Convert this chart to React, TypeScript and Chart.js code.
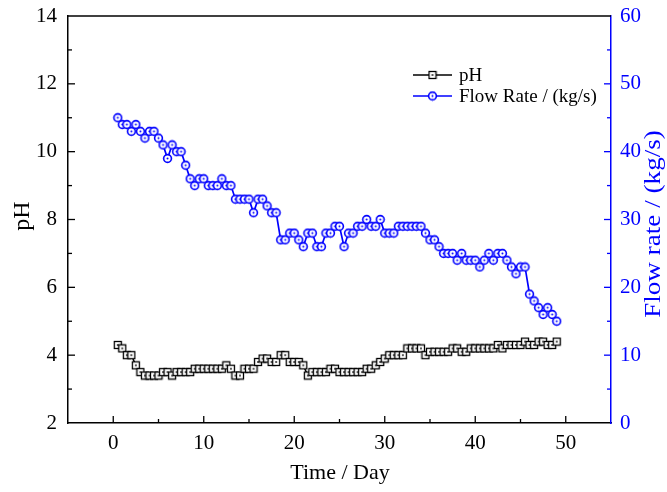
import React, { useEffect, useRef } from "react";
import { Chart, registerables } from "chart.js";
Chart.register(...registerables);

const days = [
  0.5, 1, 1.5, 2, 2.5, 3, 3.5, 4, 4.5, 5,
  5.5, 6, 6.5, 7, 7.5, 8, 8.5, 9, 9.5, 10,
  10.5, 11, 11.5, 12, 12.5, 13, 13.5, 14, 14.5, 15,
  15.5, 16, 16.5, 17, 17.5, 18, 18.5, 19, 19.5, 20,
  20.5, 21, 21.5, 22, 22.5, 23, 23.5, 24, 24.5, 25,
  25.5, 26, 26.5, 27, 27.5, 28, 28.5, 29, 29.5, 30,
  30.5, 31, 31.5, 32, 32.5, 33, 33.5, 34, 34.5, 35,
  35.5, 36, 36.5, 37, 37.5, 38, 38.5, 39, 39.5, 40,
  40.5, 41, 41.5, 42, 42.5, 43, 43.5, 44, 44.5, 45,
  45.5, 46, 46.5, 47, 47.5, 48, 48.5, 49,
];

const phValues = [
  4.3, 4.2, 4.0, 4.0, 3.7, 3.5, 3.4, 3.4, 3.4, 3.4,
  3.5, 3.5, 3.4, 3.5, 3.5, 3.5, 3.5, 3.6, 3.6, 3.6,
  3.6, 3.6, 3.6, 3.6, 3.7, 3.6, 3.4, 3.4, 3.6, 3.6,
  3.6, 3.8, 3.9, 3.9, 3.8, 3.8, 4.0, 4.0, 3.8, 3.8,
  3.8, 3.7, 3.4, 3.5, 3.5, 3.5, 3.5, 3.6, 3.6, 3.5,
  3.5, 3.5, 3.5, 3.5, 3.5, 3.6, 3.6, 3.7, 3.8, 3.9,
  4.0, 4.0, 4.0, 4.0, 4.2, 4.2, 4.2, 4.2, 4.0, 4.1,
  4.1, 4.1, 4.1, 4.1, 4.2, 4.2, 4.1, 4.1, 4.2, 4.2,
  4.2, 4.2, 4.2, 4.2, 4.3, 4.2, 4.3, 4.3, 4.3, 4.3,
  4.4, 4.3, 4.3, 4.4, 4.4, 4.3, 4.3, 4.4,
];

const flowValues = [
  45, 44, 44, 43, 44, 43, 42, 43, 43, 42,
  41, 39, 41, 40, 40, 38, 36, 35, 36, 36,
  35, 35, 35, 36, 35, 35, 33, 33, 33, 33,
  31, 33, 33, 32, 31, 31, 27, 27, 28, 28,
  27, 26, 28, 28, 26, 26, 28, 28, 29, 29,
  26, 28, 28, 29, 29, 30, 29, 29, 30, 28,
  28, 28, 29, 29, 29, 29, 29, 29, 28, 27,
  27, 26, 25, 25, 25, 24, 25, 24, 24, 24,
  23, 24, 25, 24, 25, 25, 24, 23, 22, 23,
  23, 19, 18, 17, 16, 17, 16, 15,
];

const xTicks = [0, 10, 20, 30, 40, 50];
const phTicks = [2, 4, 6, 8, 10, 12, 14];
const flowTicks = [0, 10, 20, 30, 40, 50, 60];

const BLUE = "#0000ff";
const FONT = "'Liberation Serif', 'Times New Roman', serif";

function makeSquare(): HTMLCanvasElement {
  const c = document.createElement("canvas");
  c.width = 10;
  c.height = 10;
  const g = c.getContext("2d")!;
  g.fillStyle = "#fff";
  g.fillRect(1.5, 1.5, 7, 7);
  g.strokeStyle = "#000";
  g.lineWidth = 1.3;
  g.strokeRect(1.5, 1.5, 7, 7);
  g.fillStyle = "#000";
  g.fillRect(4.2, 4.2, 1.6, 1.6);
  return c;
}

function makeCircle(): HTMLCanvasElement {
  const c = document.createElement("canvas");
  c.width = 11;
  c.height = 11;
  const g = c.getContext("2d")!;
  g.beginPath();
  g.arc(5.5, 5.5, 3.9, 0, Math.PI * 2);
  g.fillStyle = "#fff";
  g.fill();
  g.strokeStyle = BLUE;
  g.lineWidth = 1.6;
  g.stroke();
  g.beginPath();
  g.arc(5.5, 5.5, 1.0, 0, Math.PI * 2);
  g.fillStyle = BLUE;
  g.fill();
  return c;
}

export default function App() {
  const ref = useRef<HTMLCanvasElement>(null);

  useEffect(() => {
    const canvas = ref.current!;
    const sq = makeSquare();
    const ci = makeCircle();

    const decor = {
      id: "decor",
      afterDraw(chart: any) {
        const ctx = chart.ctx as CanvasRenderingContext2D;
        const a = chart.chartArea;
        const xs = chart.scales.x;
        const yl = chart.scales.y;
        const yr = chart.scales.y1;
        ctx.save();
        ctx.strokeStyle = "#000";
        ctx.lineWidth = 1.5;
        ctx.beginPath();
        ctx.moveTo(a.left, a.top);
        ctx.lineTo(a.right, a.top);
        ctx.stroke();
        ctx.lineWidth = 1.3;
        for (let v = 0; v <= 50; v += 5) {
          const px = xs.getPixelForValue(v);
          const len = v % 10 === 0 ? 7 : 4;
          ctx.beginPath();
          ctx.moveTo(px, a.bottom);
          ctx.lineTo(px, a.bottom - len);
          ctx.stroke();
        }
        for (let v = 3; v <= 13; v += 1) {
          const py = yl.getPixelForValue(v);
          const len = v % 2 === 0 ? 7 : 4;
          ctx.beginPath();
          ctx.moveTo(a.left, py);
          ctx.lineTo(a.left + len, py);
          ctx.stroke();
        }
        ctx.strokeStyle = BLUE;
        for (let v = 5; v <= 55; v += 5) {
          const py = yr.getPixelForValue(v);
          const len = v % 10 === 0 ? 7 : 4;
          ctx.beginPath();
          ctx.moveTo(a.right, py);
          ctx.lineTo(a.right - len, py);
          ctx.stroke();
        }
        ctx.fillStyle = "#000";
        ctx.textAlign = "center";
        ctx.textBaseline = "middle";
        ctx.font = `22px ${FONT}`;
        ctx.fillText("Time / Day", 340, 473);
        ctx.save();
        ctx.translate(23, 216);
        ctx.rotate(-Math.PI / 2);
        ctx.font = `24px ${FONT}`;
        ctx.fillText("pH", 0, 0);
        ctx.restore();
        ctx.save();
        ctx.translate(654, 224);
        ctx.rotate(-Math.PI / 2);
        ctx.scale(1.18, 1);
        ctx.fillStyle = BLUE;
        ctx.font = `23px ${FONT}`;
        ctx.fillText("Flow rate / (kg/s)", 0, 0);
        ctx.restore();
        const rows = [
          { y: 75, color: "#000", img: sq, text: "pH" },
          { y: 96, color: BLUE, img: ci, text: "Flow Rate / (kg/s)" },
        ];
        ctx.textAlign = "left";
        ctx.font = `19px ${FONT}`;
        for (const r of rows) {
          ctx.strokeStyle = r.color;
          ctx.lineWidth = 1.6;
          ctx.beginPath();
          ctx.moveTo(413, r.y);
          ctx.lineTo(452, r.y);
          ctx.stroke();
          ctx.drawImage(r.img, 432.5 - r.img.width / 2, r.y - r.img.height / 2);
          ctx.fillStyle = "#000";
          ctx.fillText(r.text, 459, r.y + 1);
        }
        ctx.restore();
      },
    };

    const chart = new Chart(canvas, {
      type: "line",
      data: {
        datasets: [
          {
            label: "pH",
            data: days.map((d, i) => ({ x: d, y: phValues[i] })),
            yAxisID: "y",
            borderColor: "#000",
            borderWidth: 1.5,
            pointStyle: sq as any,
            pointRadius: 4,
            tension: 0,
          },
          {
            label: "Flow Rate / (kg/s)",
            data: days.map((d, i) => ({ x: d, y: flowValues[i] })),
            yAxisID: "y1",
            borderColor: BLUE,
            borderWidth: 1.7,
            pointStyle: ci as any,
            pointRadius: 4,
            tension: 0,
          },
        ],
      },
      options: {
        responsive: false,
        devicePixelRatio: 1,
        animation: false,
        layout: { padding: { top: 16, left: 0, right: 0, bottom: 0 } },
        plugins: { legend: { display: false }, tooltip: { enabled: false } },
        scales: {
          x: {
            type: "linear",
            position: "bottom",
            min: -5,
            max: 55,
            grid: { display: false },
            border: { display: true, color: "#000", width: 1.5 },
            ticks: { color: "#000", font: { family: FONT, size: 21 }, padding: 0 },
            afterBuildTicks: (s: any) => {
              s.ticks = xTicks.map((v) => ({ value: v }));
            },
            afterFit: (s: any) => {
              s.height = 69;
            },
          },
          y: {
            type: "linear",
            position: "left",
            min: 2,
            max: 14,
            grid: { display: false },
            border: { display: true, color: "#000", width: 1.5 },
            ticks: { color: "#000", font: { family: FONT, size: 21 }, padding: 3 },
            afterBuildTicks: (s: any) => {
              s.ticks = phTicks.map((v) => ({ value: v }));
            },
            afterFit: (s: any) => {
              s.width = 68;
            },
          },
          y1: {
            type: "linear",
            position: "right",
            min: 0,
            max: 60,
            grid: { display: false },
            border: { display: true, color: BLUE, width: 1.5 },
            ticks: { color: BLUE, font: { family: FONT, size: 21 }, padding: 1 },
            afterBuildTicks: (s: any) => {
              s.ticks = flowTicks.map((v) => ({ value: v }));
            },
            afterFit: (s: any) => {
              s.width = 56;
            },
          },
        },
      },
      plugins: [decor],
    } as any);

    return () => chart.destroy();
  }, []);

  return (
    <div style={{ position: "absolute", left: 0, top: 0, width: 667, height: 492, background: "#fff" }}>
      <canvas ref={ref} width={667} height={492} style={{ display: "block", width: 667, height: 492 }} />
    </div>
  );
}
